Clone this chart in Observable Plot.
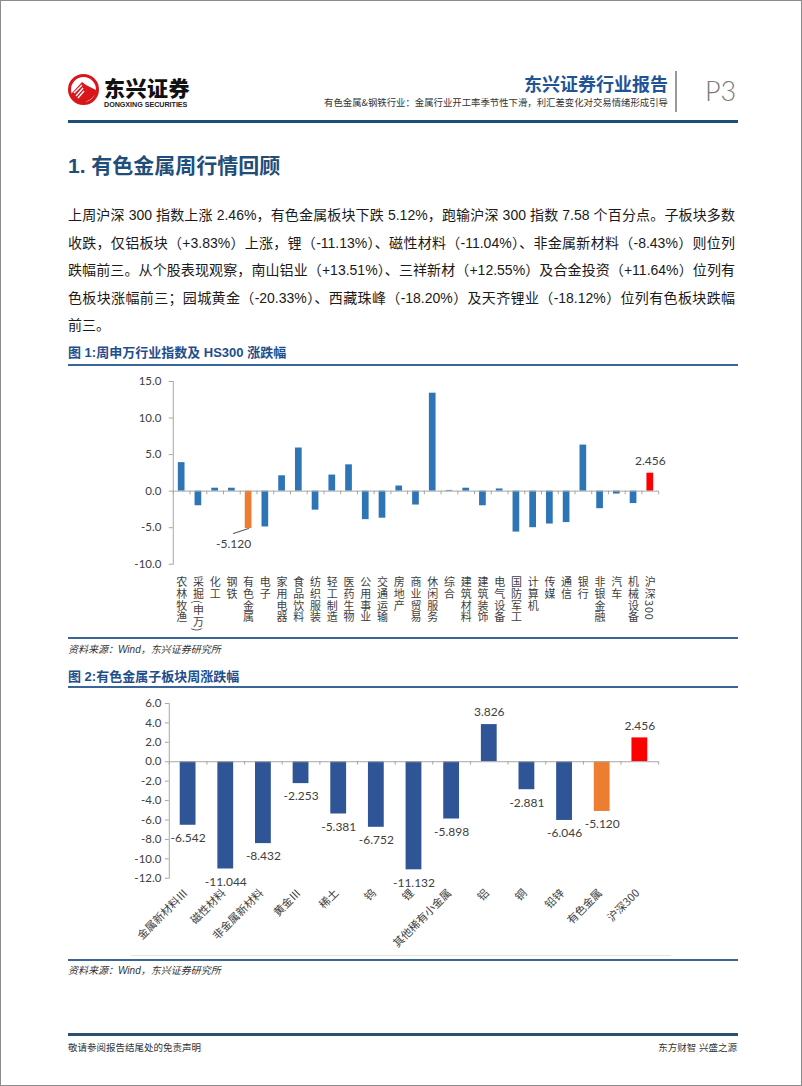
<!DOCTYPE html>
<html><head><meta charset="utf-8">
<script src="https://cdn.jsdelivr.net/npm/d3@7"></script>
<script src="https://cdn.jsdelivr.net/npm/@observablehq/plot@0.6"></script>
<style>
body{margin:0;background:#fff;}
#page{position:relative;width:802px;height:1086px;border:1px solid #8c8c8c;box-sizing:border-box;overflow:hidden;font-family:"Liberation Sans","Noto Sans CJK SC",sans-serif;color:#222;}
.a{position:absolute;white-space:nowrap;}
.pl{position:absolute;left:67px;width:667px;height:27.5px;line-height:27.5px;font-size:14px;color:#1a1a1a;white-space:nowrap;text-align:justify;text-align-last:justify;}
.rule{position:absolute;left:67px;width:670px;}
.src{position:absolute;left:67px;font-size:10px;font-style:italic;color:#333;line-height:14px;}
.ft{position:absolute;left:67px;font-size:13px;font-weight:bold;color:#1f4e8c;line-height:16px;}
</style></head>
<body><div id="page">
  <svg class="a" style="left:66px;top:72px" width="34" height="34" viewBox="0 0 34 34">
    <circle cx="16.5" cy="16.5" r="14" fill="#fff" stroke="#d9161c" stroke-width="3"/>
    <path d="M4 21 L15 9 L19 12 L29 17 L29 21 Q22 29 15 30 Q8 29 4 21 Z" fill="#d9161c"/>
    <path d="M7 20 L15 12 M9 23 L16 15 M11 25 L17 18" stroke="#fff" stroke-width="1.4"/>
  </svg>
  <div class="a" style="left:103px;top:72px;font-size:21px;line-height:28px;font-weight:900;font-family:'Noto Sans CJK SC';color:#111;letter-spacing:0.5px">东兴证券</div>
  <div class="a" style="left:103px;top:99px;font-size:7.2px;line-height:9px;font-weight:bold;color:#222;letter-spacing:-0.05px">DONGXING SECURITIES</div>
  <div class="a" style="right:133px;top:70px;font-size:18px;line-height:24px;font-weight:bold;color:#1f5597;font-family:'Noto Sans CJK SC'">东兴证券行业报告</div>
  <div class="a" style="right:133px;top:95px;font-size:9.4px;line-height:12px;color:#333;font-family:'Noto Sans CJK SC'">有色金属&amp;钢铁行业：金属行业开工率季节性下滑，利汇差变化对交易情绪形成引导</div>
  <div class="a" style="left:674px;top:70px;width:1.5px;height:41px;background:#9a9a9a"></div>
  <div class="a" style="left:704px;top:74px;font-size:27px;line-height:32px;color:#7a7a7a;font-family:Lato,'Liberation Sans';font-weight:300">P3</div>
  <div class="rule" style="top:119px;height:3px;background:#1f4e79"></div>

  <div class="a" style="left:67px;top:151px;font-size:21px;line-height:28px;font-weight:bold;color:#1f4e79">1. 有色金属周行情回顾</div>

  <div class="pl" style="top:201px">上周沪深 300 指数上涨 2.46%，有色金属板块下跌 5.12%，跑输沪深 300 指数 7.58 个百分点。子板块多数</div>
  <div class="pl" style="top:228.5px">收跌，仅铝板块（+3.83%）上涨，锂（-11.13%）、磁性材料（-11.04%）、非金属新材料（-8.43%）则位列</div>
  <div class="pl" style="top:256px">跌幅前三。从个股表现观察，南山铝业（+13.51%）、三祥新材（+12.55%）及合金投资（+11.64%）位列有</div>
  <div class="pl" style="top:283.5px">色板块涨幅前三；园城黄金（-20.33%）、西藏珠峰（-18.20%）及天齐锂业（-18.12%）位列有色板块跌幅</div>
  <div class="pl" style="top:311px;text-align-last:left">前三。</div>

  <div class="ft" style="top:344px">图 1:周申万行业指数及 HS300 涨跌幅</div>
  <div class="rule" style="top:363px;height:2px;background:#3a6596"></div>
  <div id="chart1" class="a" style="left:-1px;top:369px"></div>
  <div class="rule" style="top:636px;height:2px;background:#3a6596"></div>
  <div class="src" style="top:642px">资料来源：Wind，东兴证券研究所</div>

  <div class="ft" style="top:668px">图 2:有色金属子板块周涨跌幅</div>
  <div class="rule" style="top:685px;height:2px;background:#3a6596"></div>
  <div id="chart2" class="a" style="left:-1px;top:689px"></div>
  <div class="a" style="left:130px;top:954px;width:540px;height:1px;background:#e3e3e3"></div>
  <div class="rule" style="top:958px;height:2px;background:#3a6596"></div>
  <div class="src" style="top:963px">资料来源：Wind，东兴证券研究所</div>

  <div class="rule" style="top:1032px;height:3px;background:#2d4f72"></div>
  <div class="a" style="left:67px;top:1040px;font-size:9.5px;line-height:13px;color:#333">敬请参阅报告结尾处的免责声明</div>
  <div class="a" style="right:64px;top:1040px;font-size:9.5px;line-height:13px;color:#333">东方财智 兴盛之源</div>
</div>
<script>
// ---------- data ----------
const industries = ["农林牧渔","采掘(申万)","化工","钢铁","有色金属","电子","家用电器","食品饮料","纺织服装","轻工制造","医药生物","公用事业","交通运输","房地产","商业贸易","休闲服务","综合","建筑材料","建筑装饰","电气设备","国防军工","计算机","传媒","通信","银行","非银金融","汽车","机械设备","沪深300"];
const industryChange = [3.9, -2.0, 0.4, 0.4, -5.12, -4.9, 2.1, 5.9, -2.6, 2.2, 3.6, -3.9, -3.7, 0.7, -1.9, 13.4, 0.1, 0.4, -2.0, 0.3, -5.6, -5.0, -4.5, -4.3, 6.3, -2.4, -0.4, -1.7, 2.456];
const yTicks1 = [-10, -5, 0, 5, 10, 15];

const subSectors = ["金属新材料Ⅲ","磁性材料","非金属新材料","黄金Ⅲ","稀土","钨","锂","其他稀有小金属","铝","铜","铅锌","有色金属","沪深300"];
const subSectorChange = [-6.542, -11.044, -8.432, -2.253, -5.381, -6.752, -11.132, -5.898, 3.826, -2.881, -6.046, -5.120, 2.456];
const yTicks2 = [-12, -10, -8, -6, -4, -2, 0, 2, 4, 6];

const SECTOR = "有色金属", INDEX = "沪深300";

// ---------- styles ----------
const BLUE1 = "#2e75b6", BLUE2 = "#2f5597", ORANGE = "#ed7d31", RED = "#ff0000";
const AXIS = "#a6a6a6", TXT = "#404040";
const NUMFONT = "Lato, 'Liberation Sans', sans-serif";
const CJKFONT = "'Noto Sans CJK SC', Lato, sans-serif";
const VFONT = "'Noto Sans CJK SC', sans-serif";
const fillOf = (c, base) => c === SECTOR ? ORANGE : c === INDEX ? RED : base;
const W = 802;
const leader = {draw(ctx, l) { ctx.moveTo(0, 0); ctx.lineTo(0, -l); }};

// ---------- chart 1 ----------
const data1 = industries.map((c, i) => ({c, v: industryChange[i]}));
const ml1 = 173, mr1 = 143;
const step1 = (W - ml1 - mr1) / industries.length;
const y1min = d3.min(yTicks1), y1max = d3.max(yTicks1);
const svg1 = Plot.plot({
  width: W, height: 265, marginLeft: ml1, marginRight: mr1, marginTop: 11, marginBottom: 71,
  style: {fontFamily: NUMFONT, fontSize: "11.5px", color: TXT, background: "transparent", overflow: "visible"},
  x: {type: "band", domain: industries, paddingInner: 0.6, paddingOuter: 0.3, round: false, axis: null, label: null},
  y: {domain: [y1min, y1max], axis: null, label: null},
  color: {type: "identity"},
  marks: [
    Plot.barY(data1, {x: "c", y: "v", fill: d => fillOf(d.c, BLUE1)}),
    Plot.ruleY([0], {stroke: AXIS}),
    Plot.ruleX(industries, {x: d => d, y1: 0, y2: -0.5, dx: -step1 / 2, stroke: AXIS}),
    Plot.ruleX(industries.slice(-1), {x: d => d, y1: 0, y2: -0.5, dx: step1 / 2, stroke: AXIS}),
    Plot.frame({anchor: "left", stroke: AXIS}),
    Plot.axisY({ticks: yTicks1, label: null, tickSize: 4, tickPadding: 8, tickFormat: d => d.toFixed(1), stroke: AXIS, fill: TXT, fontSize: 11.5}),
    Plot.text(industries, {x: d => d, y: () => y1min, text: d => d, dy: 9, fill: TXT, fontFamily: VFONT, fontSize: 11}),
    Plot.text(data1.filter(d => d.c === INDEX), {x: "c", y: "v", text: d => d.v.toFixed(3), dy: -12, fill: TXT, fontSize: 12}),
    Plot.text(data1.filter(d => d.c === SECTOR), {x: "c", y: "v", text: d => d.v.toFixed(3), dx: -15, dy: 16, fill: TXT, fontSize: 12}),
    Plot.vector(data1.filter(d => d.c === SECTOR), {x: "c", y: "v", length: 16, rotate: 252, anchor: "start", shape: leader, stroke: "#595959", strokeWidth: 1})
  ]
});
const labelSet = new Set(industries);
d3.select(svg1).selectAll("text")
  .filter(function() { return labelSet.has(this.textContent) && this.parentNode.getAttribute("font-family") === VFONT; })
  .attr("dy", null)
  .attr("text-anchor", "start")
  .style("writing-mode", "vertical-rl")
  .style("letter-spacing", "0.7px");
document.getElementById("chart1").appendChild(svg1);

// ---------- chart 2 ----------
const data2 = subSectors.map((c, i) => ({c, v: subSectorChange[i]}));
const ml2 = 169, mr2 = 143;
const step2 = (W - ml2 - mr2) / subSectors.length;
const y2min = d3.min(yTicks2), y2max = d3.max(yTicks2);
const svg2 = Plot.plot({
  width: W, height: 267, marginLeft: ml2, marginRight: mr2, marginTop: 13, marginBottom: 79,
  style: {fontFamily: NUMFONT, fontSize: "11.5px", color: TXT, background: "transparent", overflow: "visible"},
  x: {type: "band", domain: subSectors, paddingInner: 0.58, paddingOuter: 0.29, round: false, axis: null, label: null},
  y: {domain: [y2min, y2max], axis: null, label: null},
  color: {type: "identity"},
  marks: [
    Plot.barY(data2, {x: "c", y: "v", fill: d => fillOf(d.c, BLUE2)}),
    Plot.ruleY([0], {stroke: AXIS}),
    Plot.ruleX(subSectors, {x: d => d, y1: 0, y2: -0.35, dx: -step2 / 2, stroke: AXIS}),
    Plot.ruleX(subSectors.slice(-1), {x: d => d, y1: 0, y2: -0.35, dx: step2 / 2, stroke: AXIS}),
    Plot.frame({anchor: "left", stroke: AXIS}),
    Plot.axisY({ticks: yTicks2, label: null, tickSize: 4, tickPadding: 4, tickFormat: d => d.toFixed(1), stroke: AXIS, fill: TXT, fontSize: 11.5}),
    Plot.text(subSectors, {x: d => d, y: () => y2min, text: d => d, rotate: -45, textAnchor: "end", dx: -2, dy: 13, fill: TXT, fontFamily: CJKFONT, fontSize: 11}),
    Plot.text(data2.filter(d => d.v >= 0), {x: "c", y: "v", text: d => d.v.toFixed(3), dy: -12, fill: TXT, fontSize: 12}),
    Plot.text(data2.filter(d => d.v < 0), {x: "c", y: "v", text: d => d.v.toFixed(3), dy: 13, fill: TXT, fontSize: 12})
  ]
});
document.getElementById("chart2").appendChild(svg2);
</script>
</body></html>
